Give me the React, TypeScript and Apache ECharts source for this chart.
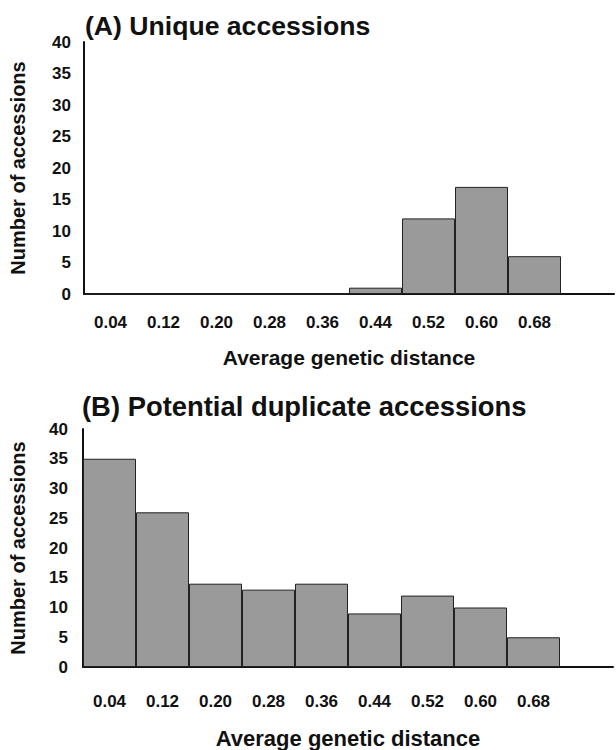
import React, { useEffect, useRef } from "react";
import * as echarts from "echarts";

const categories = ["0.04", "0.12", "0.20", "0.28", "0.36", "0.44", "0.52", "0.60", "0.68", ""];
const uniqueCounts = [0, 0, 0, 0, 0, 1, 12, 17, 6, null];
const duplicateCounts = [35, 26, 14, 13, 14, 9, 12, 10, 5, null];
const titleA = "(A) Unique accessions";
const titleB = "(B) Potential duplicate accessions";
const xName = "Average genetic distance";
const yName = "Number of accessions";

const FONT = "'Liberation Sans', Arial, Helvetica, sans-serif";

export default function App() {
  const ref = useRef<HTMLDivElement>(null);
  useEffect(() => {
    if (!ref.current) return;
    const chart = echarts.init(ref.current, null, { renderer: "svg" });
    const axisLine = { show: true, lineStyle: { color: "#111", width: 2 } };
    const labelStyle = { color: "#111", fontFamily: FONT, fontWeight: "bold" as const, fontSize: 17 };
    const nameStyle = { color: "#111", fontFamily: FONT, fontWeight: "bold" as const, fontSize: 20 };
    const xAxisBase = (gridIndex: number, margin: number, gap: number, nameSize: number) => ({
      type: "category" as const,
      gridIndex,
      data: categories,
      axisLine,
      axisTick: { show: false },
      axisLabel: { ...labelStyle, margin, interval: 0 },
      name: xName,
      nameLocation: "middle" as const,
      nameGap: gap,
      nameTextStyle: { ...nameStyle, fontSize: nameSize },
      splitLine: { show: false },
    });
    const yAxisBase = (gridIndex: number, margin: number, gap: number) => ({
      type: "value" as const,
      gridIndex,
      min: 0,
      max: 40,
      interval: 5,
      axisLine,
      axisTick: { show: false },
      axisLabel: { ...labelStyle, margin },
      splitLine: { show: false },
      name: yName,
      nameLocation: "middle" as const,
      nameGap: gap,
      nameTextStyle: nameStyle,
    });
    const barStyle = { color: "#9a9a9a", borderColor: "#222", borderWidth: 1 };
    chart.setOption({
      animation: false,
      backgroundColor: "#fff",
      graphic: [
        {
          type: "text",
          left: 85,
          top: 12,
          style: { text: titleA, fill: "#111", font: `bold 26.6px ${FONT}` },
        },
        {
          type: "text",
          left: 82,
          top: 393,
          style: { text: titleB, fill: "#111", font: `bold 27.4px ${FONT}` },
        },
      ],
      grid: [
        { left: 81, top: 42, width: 533, height: 252 },
        { left: 78, top: 429, width: 535, height: 240 },
      ],
      xAxis: [xAxisBase(0, 20, 53, 21), xAxisBase(1, 26, 60, 22)],
      yAxis: [yAxisBase(0, 13, 56), yAxisBase(1, 15, 55)],
      series: [
        {
          type: "bar",
          xAxisIndex: 0,
          yAxisIndex: 0,
          data: uniqueCounts,
          barWidth: "100%",
          itemStyle: barStyle,
        },
        {
          type: "bar",
          xAxisIndex: 1,
          yAxisIndex: 1,
          data: duplicateCounts,
          barWidth: "100%",
          itemStyle: barStyle,
        },
      ],
    });
    return () => chart.dispose();
  }, []);
  return <div ref={ref} style={{ width: 616, height: 750, position: "absolute", left: 0, top: 0 }} />;
}
